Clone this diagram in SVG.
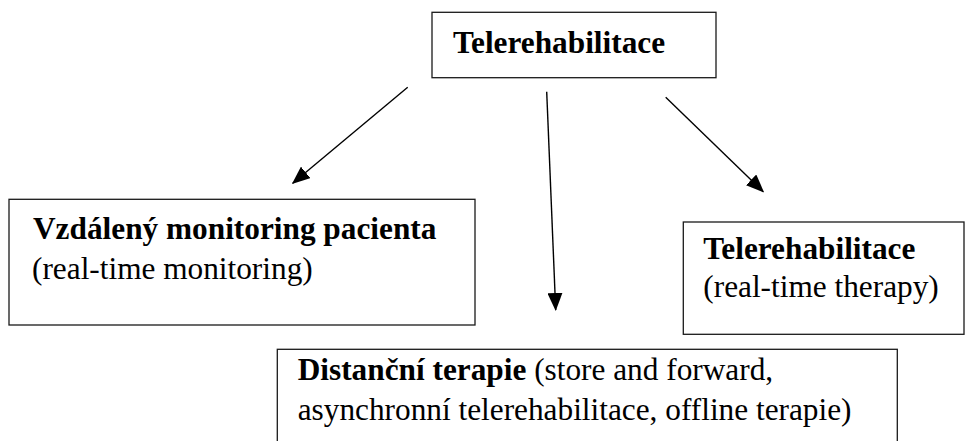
<svg xmlns="http://www.w3.org/2000/svg" width="967" height="441" viewBox="0 0 967 441">
<style>
.box{fill:#fff;stroke:#1a1a1a;stroke-width:1.3}
.t{font-family:"Liberation Serif","Times New Roman",serif;font-size:31.3px;fill:#000}
.b{font-weight:bold}
.c{stroke:#000;stroke-width:1.4;fill:none}
</style>
<defs>
<marker id="ah" viewBox="0 0 18 15" refX="17" refY="7.5" markerWidth="18" markerHeight="15" markerUnits="userSpaceOnUse" orient="auto">
<path d="M0,0 L18,7.5 L0,15 z" fill="#000"/>
</marker>
</defs>
<rect width="967" height="441" fill="#fff"/>
<g id="connectors">
<line class="c" x1="407.7" y1="87.3" x2="292.7" y2="183.3" marker-end="url(#ah)"/>
<line class="c" x1="546.7" y1="91.7" x2="555.7" y2="310" marker-end="url(#ah)"/>
<line class="c" x1="665.7" y1="97.3" x2="763.3" y2="191.7" marker-end="url(#ah)"/>
</g>
<g id="root">
<rect class="box" x="432" y="12.3" width="284" height="65.4"/>
<text class="t b" x="453" y="53">Telerehabilitace</text>
</g>
<g id="monitoring">
<rect class="box" x="9" y="199.3" width="466" height="125.7"/>
<text class="t" x="33" y="239.3"><tspan class="b">Vzdálený monitoring pacienta</tspan><tspan x="32" y="279">(real-time monitoring)</tspan></text>
</g>
<g id="realtime">
<rect class="box" x="683.3" y="222" width="280.7" height="112.3"/>
<text class="t" x="703.3" y="259.3"><tspan class="b">Telerehabilitace</tspan><tspan x="703.3" y="297">(real-time therapy)</tspan></text>
</g>
<g id="distance">
<rect class="box" x="277.3" y="349.3" width="620" height="110"/>
<text class="t" x="297.7" y="380"><tspan class="b">Distanční terapie</tspan> (store and forward,<tspan x="297.7" y="420">asynchronní telerehabilitace, offline terapie)</tspan></text>
</g>
</svg>
